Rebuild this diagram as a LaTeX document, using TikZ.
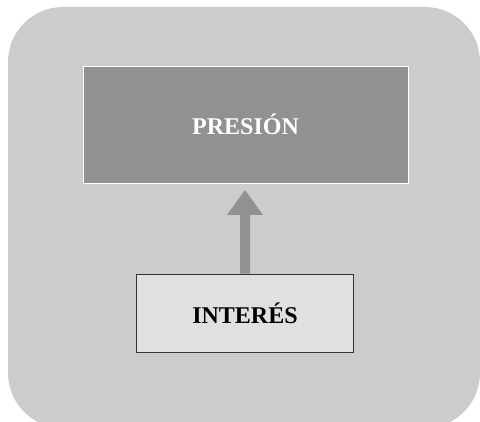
\documentclass[tikz,border=0pt]{standalone}
\usepackage{fontspec}
\setmainfont{Liberation Serif}
\definecolor{panelgray}{HTML}{CCCCCC}
\definecolor{darkgray}{HTML}{919191}
\definecolor{lightbox}{HTML}{E0E0E0}
\tikzset{
  topbox/.style={draw=white, line width=0.8pt, fill=darkgray, minimum width=325pt, minimum height=117pt,
    inner sep=0pt, font=\fontsize{24}{28}\selectfont\bfseries, text=white},
  bottombox/.style={draw=black!80, line width=0.7pt, fill=lightbox, minimum width=217pt, minimum height=78pt,
    inner sep=0pt, font=\fontsize{24}{28}\selectfont\bfseries, text=black},
}
\begin{document}
\begin{tikzpicture}[x=1pt,y=1pt]
  \useasboundingbox (0,0) rectangle (480,422);
  % rounded background panel, clipped at the page edge
  \begin{scope}
    \clip (0,0) rectangle (480,422);
    \fill[panelgray, rounded corners=55pt] (8,-6) rectangle (480,415);
  \end{scope}
  % boxes
  \node[topbox] (pres) at (245.5,297.5) {PRESIÓN};
  \node[bottombox] (int) at (245,109) {INTERÉS};
  % block arrow from the lower box up to the upper box
  \coordinate (tip) at (245,232);
  \fill[darkgray] (int.north -| 240,0) -- (240,207) -- (227,207) -- (tip) -- (263,207) -- (250,207) -- (int.north -| 250,0) -- cycle;
\end{tikzpicture}
\end{document}
